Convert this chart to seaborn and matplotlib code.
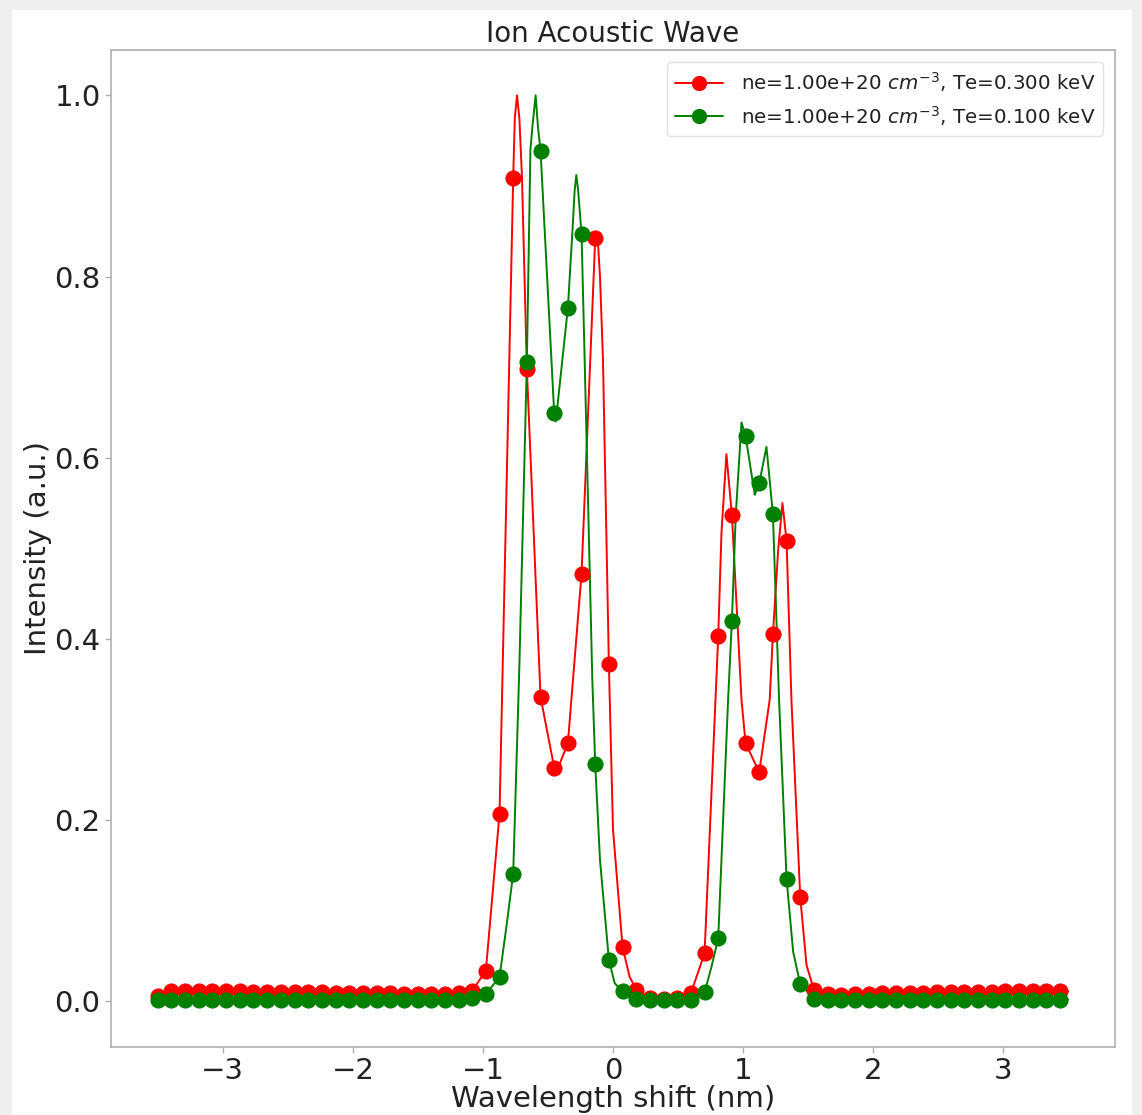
import numpy as np
import pandas as pd
import matplotlib
matplotlib.use("Agg")
import matplotlib.pyplot as plt
from matplotlib.patches import Rectangle
from matplotlib.lines import Line2D
import seaborn as sns

# ---------------- data ----------------
# wavelength grid where markers are drawn
marker_x = -3.5 + 0.1051 * np.arange(67)

red_marker_y = [0.006] + [0.011] * 6 + [0.010] * 6 + [0.009] * 5 + [0.008] * 4 + [
    0.009, 0.0115, 0.034, 0.207, 0.909, 0.698, 0.336, 0.258, 0.285, 0.472,
    0.842, 0.372, 0.060, 0.013, 0.004, 0.003, 0.004, 0.009, 0.053, 0.403,
    0.537, 0.285, 0.253, 0.405, 0.508, 0.115, 0.013, 0.008, 0.007] + [
    0.008, 0.008, 0.009, 0.009, 0.009, 0.009, 0.010, 0.010, 0.010, 0.010,
    0.010, 0.011, 0.011, 0.011, 0.011, 0.011]

green_marker_y = [0.002] * 23 + [
    0.0034, 0.008, 0.027, 0.141, 0.706, 0.939, 0.649, 0.765, 0.847, 0.262,
    0.046, 0.011, 0.003, 0.001, 0.001, 0.001, 0.002, 0.010, 0.070, 0.420,
    0.624, 0.572, 0.538, 0.135, 0.019, 0.003] + [0.002] * 18

# extra points of the continuous curves (peaks, valleys, flanks, end)
red_extra_x = [-0.755, -0.738, -0.72, -0.70,
               -0.43, -0.12, -0.10, -0.077, 0.0, 0.128,
               0.834, 0.872, 0.988, 1.205, 1.27, 1.303, 1.372,
               1.488, 3.5]
red_extra_y = [0.975, 1.0, 0.975, 0.91,
               0.255, 0.848, 0.80, 0.708, 0.19, 0.027,
               0.517, 0.604, 0.333, 0.333, 0.498, 0.550, 0.333,
               0.040, 0.011]
green_extra_x = [-0.82, -0.72, -0.635, -0.62, -0.595, -0.577,
                 -0.44, -0.31, -0.295, -0.282, -0.268, -0.218, -0.159,
                 -0.10, 0.013,
                 0.757, 0.885, 0.944, 0.988, 1.09, 1.18, 1.277, 1.385, 3.5]
green_extra_y = [0.082, 0.37, 0.94, 0.965, 1.0, 0.965,
                 0.640, 0.855, 0.895, 0.912, 0.895, 0.708, 0.355,
                 0.156, 0.020,
                 0.038, 0.333, 0.537, 0.639, 0.559, 0.612, 0.333, 0.055, 0.002]

labels = [r"ne=1.00e+20 $cm^{-3}$, Te=0.300 keV",
          r"ne=1.00e+20 $cm^{-3}$, Te=0.100 keV"]
colors = ["red", "green"]

title = "Ion Acoustic Wave"
xlabel = "Wavelength shift (nm)"
ylabel = "Intensity (a.u.)"

# ---------------- build tables ----------------
def curve(mx, my, ex, ey):
    df = pd.DataFrame({"x": np.concatenate([mx, ex]),
                       "y": np.concatenate([my, ey])})
    return df.sort_values("x").reset_index(drop=True)

red_line = curve(marker_x, red_marker_y, red_extra_x, red_extra_y)
green_line = curve(marker_x, green_marker_y, green_extra_x, green_extra_y)
red_pts = pd.DataFrame({"x": marker_x, "y": red_marker_y})
green_pts = pd.DataFrame({"x": marker_x, "y": green_marker_y})

# ---------------- figure ----------------
sns.set_style("ticks")
plt.rcParams["font.family"] = ["DejaVu Sans"]

fig = plt.figure(figsize=(11.42, 11.15), dpi=100)
fig.patch.set_facecolor("#efefef")
fig.patches.append(Rectangle((12 / 1142, 0), (1132 - 12) / 1142, (1115 - 10) / 1115,
                             transform=fig.transFigure, facecolor="white",
                             edgecolor="none", zorder=-1))
ax = fig.add_axes([111 / 1142, 1 - 1046.7 / 1115, (1115 - 111) / 1142, (1046.7 - 50) / 1115])
ax.set_facecolor("white")

for line, pts, c in [(red_line, red_pts, colors[0]), (green_line, green_pts, colors[1])]:
    sns.lineplot(data=line, x="x", y="y", color=c, lw=1.4, ax=ax,
                 sort=False, estimator=None)
    sns.scatterplot(data=pts, x="x", y="y", color=c, s=135, edgecolor=c,
                    linewidth=0, ax=ax, zorder=3)

ax.set_xlim(-3.86, 3.86)
ax.set_ylim(-0.05, 1.05)
ax.set_xticks([-3, -2, -1, 0, 1, 2, 3])
ax.set_yticks([0.0, 0.2, 0.4, 0.6, 0.8, 1.0])
ax.set_yticklabels(["0.0", "0.2", "0.4", "0.6", "0.8", "1.0"])

for s in ax.spines.values():
    s.set_color("#b0b0b0")
    s.set_linewidth(1.2)
ax.tick_params(axis="both", colors="#b0b0b0", labelcolor="#222222",
               labelsize=21, length=4, width=1)

ax.set_title(title, fontsize=20, color="#222222", pad=6)
ax.set_xlabel(xlabel, fontsize=21, color="#222222", labelpad=0)
ax.set_ylabel(ylabel, fontsize=21, color="#222222", labelpad=2)

handles = [Line2D([0], [0], color=c, lw=1.4, marker="o", markersize=10)
           for c in colors]
leg = ax.legend(handles, labels, loc="upper right", fontsize=14.3, frameon=True,
                borderaxespad=0.6, handlelength=2.4, handletextpad=0.9)
leg.get_frame().set_edgecolor("#dddddd")
for t in leg.get_texts():
    t.set_color("#222222")

fig.savefig("out.png", dpi=100)
